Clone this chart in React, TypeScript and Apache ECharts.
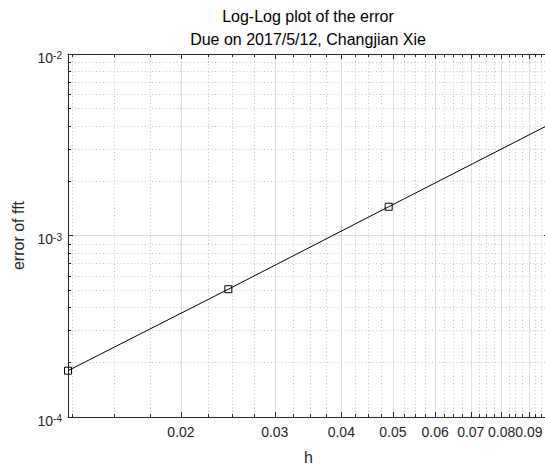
import React, { useEffect, useRef } from 'react';
import * as echarts from 'echarts';

// ---- data ----
const hValues = [0.012272, 0.024544, 0.049087, 0.098175];
const errValues = [1.8e-4, 5.06e-4, 1.44e-3, 4.08e-3];

const xLimits = [0.012272, 0.098175];
const xMajorTicks = [0.02, 0.03, 0.04, 0.05, 0.06, 0.07, 0.08, 0.09];
const xTickLabels = ['0.02', '0.03', '0.04', '0.05', '0.06', '0.07', '0.08', '0.09'];
const xMinorTicks = [
  0.0125, 0.015, 0.0175, 0.0225, 0.025, 0.0275, 0.0325, 0.035, 0.0375,
  0.0425, 0.045, 0.0475, 0.0525, 0.055, 0.0575, 0.0625, 0.065, 0.0675,
  0.0725, 0.075, 0.0775, 0.0825, 0.085, 0.0875, 0.0925, 0.095, 0.0975,
];

const yLimitExponents = [-4, -2];
const yMajorExponents = [-4, -3, -2];
const yMinorTicks = [
  2e-4, 3e-4, 4e-4, 5e-4, 6e-4, 7e-4, 8e-4, 9e-4,
  2e-3, 3e-3, 4e-3, 5e-3, 6e-3, 7e-3, 8e-3, 9e-3,
];

const titleLines = ['Log-Log plot of the error', 'Due on 2017/5/12, Changjian Xie'];
const xLabel = 'h';
const yLabel = 'error of fft';

const FONT = '"Liberation Sans", Arial, Helvetica, sans-serif';
const AX = '#262626';
const MAJOR_GRID = '#dedede';
const MINOR_GRID = '#c4c4c4';

const lg = (v: number) => Math.log10(v);

export default function App() {
  const ref = useRef<HTMLDivElement>(null);

  useEffect(() => {
    if (!ref.current) return;
    const chart = echarts.init(ref.current, undefined, { renderer: 'svg' });

    const xMin = lg(xLimits[0]);
    const xMax = lg(xLimits[1]);
    const xMajorLog = xMajorTicks.map(lg);
    const xMinorLog = xMinorTicks.map(lg);
    const yMinorLog = yMinorTicks.map(lg);

    const gridRect = { left: 68, right: -4, top: 54, bottom: 47, outerBoundsMode: 'none', containLabel: false };

    const xLabelFormatter = (v: number) => {
      let best = 0;
      for (let i = 1; i < xMajorLog.length; i++) {
        if (Math.abs(xMajorLog[i] - v) < Math.abs(xMajorLog[best] - v)) best = i;
      }
      return xTickLabels[best];
    };

    const hiddenLabel = { show: false };
    const axisLineOn = { show: true, onZero: false, lineStyle: { color: AX, width: 1 } };
    const axisLineOff = { show: false, onZero: false };

    const xAxes: any[] = [
      {
        gridIndex: 0, type: 'value', position: 'bottom', min: xMin, max: xMax,
        axisLine: axisLineOn,
        axisTick: { show: true, inside: true, length: 5, customValues: xMajorLog, lineStyle: { color: AX } },
        axisLabel: {
          show: true, customValues: xMajorLog, formatter: xLabelFormatter, margin: 8,
          fontSize: 14, color: AX, fontFamily: FONT, hideOverlap: false,
        },
        splitLine: { show: true, lineStyle: { color: MAJOR_GRID, width: 1, type: 'solid' } },
        name: xLabel, nameLocation: 'middle', nameGap: 32,
        nameTextStyle: { fontSize: 16, color: AX, fontFamily: FONT },
      },
      {
        gridIndex: 0, type: 'value', position: 'top', min: xMin, max: xMax,
        axisLine: axisLineOn,
        axisTick: { show: true, inside: true, length: 5, customValues: xMajorLog, lineStyle: { color: AX } },
        axisLabel: hiddenLabel,
        splitLine: { show: false },
      },
      {
        gridIndex: 1, type: 'value', position: 'bottom', min: xMin, max: xMax,
        axisLine: axisLineOff,
        axisTick: { show: true, inside: true, length: 3, customValues: xMinorLog, lineStyle: { color: AX } },
        axisLabel: hiddenLabel,
        splitLine: { show: true, lineStyle: { color: MINOR_GRID, width: 1, type: [1, 2.5] } },
      },
      {
        gridIndex: 1, type: 'value', position: 'top', min: xMin, max: xMax,
        axisLine: axisLineOff,
        axisTick: { show: true, inside: true, length: 3, customValues: xMinorLog, lineStyle: { color: AX } },
        axisLabel: hiddenLabel,
        splitLine: { show: false },
      },
    ];

    const yAxes: any[] = [
      {
        gridIndex: 0, type: 'value', position: 'left',
        min: yLimitExponents[0], max: yLimitExponents[1], interval: 1,
        axisLine: axisLineOn,
        axisTick: { show: true, inside: true, length: 5, customValues: yMajorExponents, lineStyle: { color: AX } },
        axisLabel: {
          show: true, customValues: yMajorExponents, margin: 6, padding: [7, 0, 0, 0],
          formatter: (v: number) => `{b|10}{s|${Math.round(v)}}`,
          rich: {
            b: { fontSize: 14, lineHeight: 14, verticalAlign: 'bottom', color: AX, fontFamily: FONT },
            s: { fontSize: 10, lineHeight: 10, verticalAlign: 'top', padding: [0, 0, 6, 0], color: AX, fontFamily: FONT },
          },
        },
        splitLine: { show: true, lineStyle: { color: MAJOR_GRID, width: 1, type: 'solid' } },
        name: yLabel, nameLocation: 'middle', nameGap: 35, nameRotate: 90,
        nameTextStyle: { fontSize: 16, color: AX, fontFamily: FONT },
      },
      {
        gridIndex: 0, type: 'value', position: 'right',
        min: yLimitExponents[0], max: yLimitExponents[1], interval: 1,
        axisLine: axisLineOn,
        axisTick: { show: true, inside: true, length: 5, customValues: yMajorExponents, lineStyle: { color: AX } },
        axisLabel: hiddenLabel,
        splitLine: { show: false },
      },
      {
        gridIndex: 1, type: 'value', position: 'left',
        min: yLimitExponents[0], max: yLimitExponents[1], interval: 1,
        axisLine: axisLineOff,
        axisTick: { show: true, inside: true, length: 3, customValues: yMinorLog, lineStyle: { color: AX } },
        axisLabel: hiddenLabel,
        splitLine: { show: true, lineStyle: { color: MINOR_GRID, width: 1, type: [1, 2.5] } },
      },
      {
        gridIndex: 1, type: 'value', position: 'right',
        min: yLimitExponents[0], max: yLimitExponents[1], interval: 1,
        axisLine: axisLineOff,
        axisTick: { show: true, inside: true, length: 3, customValues: yMinorLog, lineStyle: { color: AX } },
        axisLabel: hiddenLabel,
        splitLine: { show: false },
      },
    ];

    const titleStyle = { fontSize: 16, fontWeight: 'normal', color: '#000', fontFamily: FONT, lineHeight: 16 };

    chart.setOption({
      animation: false,
      backgroundColor: '#ffffff',
      title: [
        { text: titleLines[0], left: 308, top: 8, textAlign: 'center', padding: 0, textStyle: titleStyle },
        { text: titleLines[1], left: 308, top: 31, textAlign: 'center', padding: 0, textStyle: titleStyle },
      ],
      grid: [{ ...gridRect }, { ...gridRect }],
      xAxis: xAxes,
      yAxis: yAxes,
      series: [
        {
          type: 'line',
          xAxisIndex: 0,
          yAxisIndex: 0,
          data: hValues.map((h, i) => [lg(h), lg(errValues[i])]),
          symbol: 'rect',
          symbolSize: 7,
          showSymbol: true,
          showAllSymbol: true,
          silent: true,
          z: 5,
          lineStyle: { color: '#000', width: 1 },
          itemStyle: { color: 'rgba(255,255,255,0)', borderColor: '#000', borderWidth: 1 },
        },
      ],
    });

    return () => chart.dispose();
  }, []);

  return (
    <div
      ref={ref}
      style={{ position: 'absolute', left: 0, top: 0, width: 545, height: 464, overflow: 'hidden' }}
    />
  );
}
